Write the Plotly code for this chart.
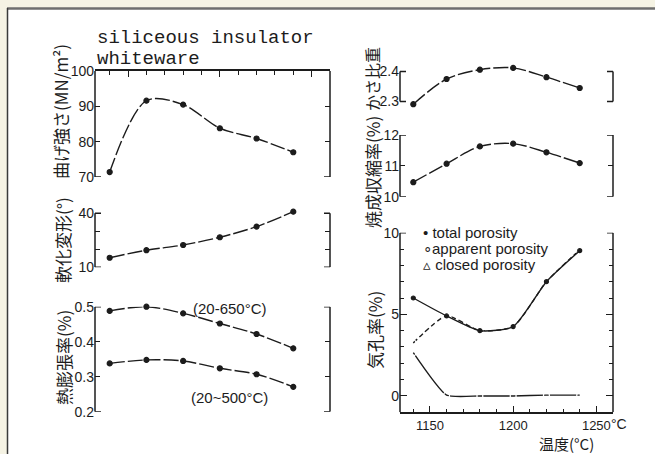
import plotly.graph_objects as go

# ---------------- data ----------------
temps = [1140, 1160, 1180, 1200, 1220, 1240]
bending_strength = [71.4, 91.6, 90.5, 83.8, 80.9, 77.0]
softening_deform = [15.3, 19.5, 22.4, 26.7, 32.6, 40.9]
thermal_exp_650 = [0.488, 0.500, 0.481, 0.452, 0.422, 0.381]
thermal_exp_500 = [0.338, 0.348, 0.345, 0.324, 0.307, 0.271]
bulk_sg = [2.291, 2.375, 2.406, 2.412, 2.381, 2.345]
firing_shrinkage = [10.47, 11.07, 11.63, 11.72, 11.44, 11.09]
total_porosity = [6.0, 4.9, 4.0, 4.25, 7.0, 8.9]
apparent_porosity = [2.65, 0.05, 0.0, 0.0, 0.05, 0.05]
closed_porosity = [3.25, 4.9, 4.0, 4.25, 7.0, 8.95]

W, H = 655, 454
INK = "#1c1c1c"
XRANGE = [1132, 1260]

def xp(px):
    return px / W

def yp(py):
    return 1 - py / H

panels = {
    "bend":   dict(col="L", lo=70, hi=100, ptop=71, pbot=177, rlo=70, rhi=100,
                   tickvals=[70, 80, 90, 100], ticktext=["70", "80", "90", "100"]),
    "soft":   dict(col="L", lo=10, hi=40, ptop=213.3, pbot=267.3, rlo=10, rhi=42,
                   tickvals=[10, 20, 30, 40], ticktext=["10", "", "", "40"]),
    "therm":  dict(col="L", lo=0.2, hi=0.5, ptop=306.7, pbot=411.7, rlo=0.2, rhi=0.5,
                   tickvals=[0.2, 0.3, 0.4, 0.5], ticktext=["0.2", "0.3", "0.4", "0.5"]),
    "bulk":   dict(col="R", lo=2.3, hi=2.4, ptop=71.5, pbot=101.5, rlo=2.27, rhi=2.43,
                   tickvals=[2.3, 2.4], ticktext=["2.3", "2.4"]),
    "shrink": dict(col="R", lo=10, hi=12, ptop=135, pbot=196.7, rlo=10, rhi=12,
                   tickvals=[10, 11, 12], ticktext=["10", "11", "12"]),
    "poro":   dict(col="R", lo=-1, hi=10, ptop=232.7, pbot=412.3, rlo=-1, rhi=10,
                   tickvals=[0, 5, 10], ticktext=["0", "5", "10"]),
}
order = ["bend", "soft", "therm", "bulk", "shrink", "poro"]
XSPAN = {"L": (95, 330), "R": (400, 613)}

fig = go.Figure()
layout = dict(width=W, height=H, margin=dict(l=0, r=0, t=0, b=0, pad=0, autoexpand=False),
              paper_bgcolor="#f5f3e4", plot_bgcolor="rgba(0,0,0,0)",
              showlegend=False, font=dict(family="Liberation Sans", color=INK))

shapes = []
shapes.append(dict(type="rect", xref="paper", yref="paper", x0=xp(7), x1=1.0, y0=0, y1=yp(8),
                   fillcolor="white", line=dict(width=0), layer="below"))
shapes.append(dict(type="line", xref="paper", yref="paper", x0=xp(7), x1=1.0, y0=yp(8.5), y1=yp(8.5),
                   line=dict(color="#6e6e6e", width=2.5), layer="below"))
shapes.append(dict(type="line", xref="paper", yref="paper", x0=xp(7.5), x1=xp(7.5), y0=0, y1=yp(8),
                   line=dict(color="#3a3a3a", width=1.5), layer="below"))

TICKFONT = dict(size=14, family="Liberation Sans", color=INK)

for i, key in enumerate(order, start=1):
    p = panels[key]
    ppu = (p["pbot"] - p["ptop"]) / (p["hi"] - p["lo"])
    top_px = p["ptop"] - (p["rhi"] - p["hi"]) * ppu
    bot_px = p["pbot"] + (p["lo"] - p["rlo"]) * ppu
    x0, x1 = XSPAN[p["col"]]
    sfx = "" if i == 1 else str(i)
    xa = dict(domain=[xp(x0), xp(x1)], range=XRANGE, anchor="y" + sfx,
              showgrid=False, zeroline=False, showticklabels=False, ticks="",
              showline=False, fixedrange=True)
    ya = dict(domain=[yp(bot_px), yp(top_px)], range=[p["rlo"], p["rhi"]], anchor="x" + sfx,
              showgrid=False, zeroline=False, showline=False, ticks="inside", ticklen=5,
              tickwidth=1.3, tickcolor=INK, mirror="ticks",
              tickvals=p["tickvals"], ticktext=p["ticktext"],
              tickfont=TICKFONT, fixedrange=True)
    if key == "bend":
        xa.update(side="top", showline=True, linecolor=INK, linewidth=1.5,
                  ticks="inside", tickvals=[1150, 1200, 1250], ticklen=6, tickwidth=1.3,
                  tickcolor=INK, minor=dict(dtick=10, tick0=1140, ticks="inside", ticklen=4,
                                            tickwidth=1.2, tickcolor=INK))
    if key == "poro":
        xa.update(showline=True, linecolor=INK, linewidth=1.5, ticks="inside",
                  tickvals=[1150, 1200, 1250], ticktext=["1150", "1200", "1250"],
                  showticklabels=True, ticklen=7, tickwidth=1.3, tickcolor=INK,
                  tickfont=dict(size=13, family="Liberation Sans", color=INK),
                  minor=dict(dtick=10, tick0=1140, ticks="inside", ticklen=4,
                             tickwidth=1.2, tickcolor=INK))
        ya.update(minor=dict(dtick=1, ticks="inside", ticklen=4, tickwidth=1.1, tickcolor=INK),
                  ticklen=7)
    layout["xaxis" + sfx] = xa
    layout["yaxis" + sfx] = ya

    yr = "y" + sfx
    for xx in (x0, x1):
        shapes.append(dict(type="line", xref="paper", yref=yr, x0=xp(xx), x1=xp(xx),
                           y0=p["lo"], y1=p["hi"], line=dict(color=INK, width=1.5)))
    ends = []
    if key != "bend":
        ends.append(p["hi"])
    if key != "poro":
        ends.append(p["lo"])
    for yv in ends:
        shapes.append(dict(type="line", xref="paper", yref=yr, x0=xp(x0), x1=xp(x0 + 6),
                           y0=yv, y1=yv, line=dict(color=INK, width=1.5)))
        shapes.append(dict(type="line", xref="paper", yref=yr, x0=xp(x1 - 6), x1=xp(x1),
                           y0=yv, y1=yv, line=dict(color=INK, width=1.5)))

layout["shapes"] = shapes

def series(y, ax, dash="15px,3px", symbol="circle", size=5, mfill=INK, smooth=0.9):
    return go.Scatter(x=temps, y=y, xaxis="x" + ax, yaxis="y" + ax, mode="lines+markers",
                      line=dict(color=INK, width=1.4, dash=dash, shape="spline", smoothing=smooth),
                      marker=dict(symbol=symbol, size=size, color=mfill,
                                  line=dict(color=INK, width=1.2)),
                      cliponaxis=False, hoverinfo="skip")

fig.add_trace(series(bending_strength, ""))
fig.add_trace(series(softening_deform, "2"))
fig.add_trace(series(thermal_exp_650, "3"))
fig.add_trace(series(thermal_exp_500, "3"))
fig.add_trace(series(bulk_sg, "4"))
fig.add_trace(series(firing_shrinkage, "5"))
fig.add_trace(series(closed_porosity, "6", dash="5px,3px", symbol="triangle-up-open", size=9,
                     mfill="white", smooth=0.6))
fig.add_trace(series(total_porosity, "6", dash="solid", size=4, smooth=0.6))
fig.add_trace(series(apparent_porosity, "6", dash="solid", symbol="circle-open", size=6,
                     mfill="white", smooth=0.5))

ann = []
def text(t, x, y, size=14, angle=0, family="Liberation Sans", xanchor="center"):
    ann.append(dict(text=t, x=xp(x), y=yp(y), xref="paper", yref="paper", showarrow=False,
                    textangle=angle, xanchor=xanchor, yanchor="middle",
                    font=dict(size=size, family=family, color=INK)))

MONO = "Liberation Mono"
JP = "Noto Sans CJK JP"
text("siliceous insulator", 95, 37.5, size=19, family=MONO, xanchor="left")
text("whiteware", 95, 59.5, size=19, family=MONO, xanchor="left")

text("曲げ強さ(MN/m²)", 60, 112, size=17, angle=-90, family=JP)
text("軟化変形(°)", 62, 240, size=17, angle=-90, family=JP)
text("熱膨張率(%)", 63, 358, size=17, angle=-90, family=JP)
text("かさ比重", 372, 79, size=16, angle=-90, family=JP)
text("焼成収縮率(%)", 372, 172, size=17, angle=-90, family=JP)
text("気孔率(%)", 374, 330, size=17, angle=-90, family=JP)
text("温度(°C)", 566, 443, size=15, family=JP)

text("(20-650°C)", 230, 308, size=15)
text("(20~500°C)", 230, 397, size=15)
text("°C", 609, 424, size=14, xanchor="left")

text("• total porosity", 421, 232, size=15, xanchor="left")
text("∘apparent porosity", 421, 248, size=15, xanchor="left")
text("▵ closed porosity", 421, 264, size=15, xanchor="left")

layout["annotations"] = ann
fig.update_layout(**layout)
fig.write_html("out.html", config={"displayModeBar": False},
               post_script="document.body.style.margin='0';document.body.style.background='#f5f3e4';")
